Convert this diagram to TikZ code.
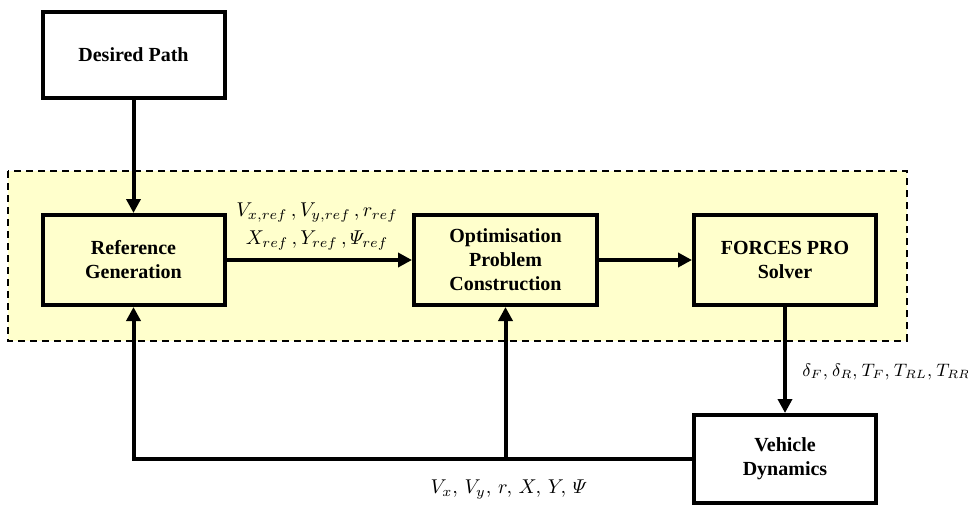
\documentclass[tikz,border=0pt]{standalone}
\usepackage{fontspec}
\setmainfont{Liberation Serif}
\usepackage{amsmath}
\usetikzlibrary{arrows.meta}
\definecolor{bgyellow}{RGB}{255,255,204}

\begin{document}
\begin{tikzpicture}[x=0.5pt,y=0.5pt,
  blk/.style={draw=black, line width=2pt, minimum width=91pt, minimum height=45pt,
    align=center, font=\bfseries, inner sep=0pt},
  sig/.style={black, line width=2pt, -{Triangle[length=7pt,width=7pt]}},
  lbl/.style={inner sep=0pt, align=center}]
\useasboundingbox (0,0) rectangle (968,-509);
\draw [black, line width=1pt, dash pattern=on 3.5pt off 2.5pt, fill=bgyellow] (7.5,-171) rectangle (906.5,-340.5);
\node [blk, fill=white, minimum height=43pt] (path) at (133.5,-55) {Desired Path};
\node [blk] (refgen) at (133.5,-260) {Reference\\Generation};
\node [blk, minimum width=91.5pt] (optim) at (505.5,-260) {Optimisation\\Problem\\Construction};
\node [blk] (solver) at (785,-260) {FORCES PRO\\Solver};
\node [blk, fill=white, minimum height=44pt] (vehicle) at (785,-459) {Vehicle\\Dynamics};
\coordinate (tap) at (optim.south |- vehicle.west);
\draw [sig] (path) -- (refgen);
\draw [sig] (refgen) -- (optim);
\draw [sig] (optim) -- (solver);
\draw [sig] (solver) -- (vehicle);
\draw [sig] (vehicle.west) -| (refgen.south);
\draw [sig] (tap) -- (optim.south);
\node [lbl] (reflbl) at (317,-227) {$V_{x,ref}\,,V_{y,ref}\,,r_{ref}$\\[2pt]$X_{ref}\,,Y_{ref}\,,\varPsi_{ref}$};
\node [lbl, anchor=west, font=\small] (ctrllbl) at (802,-372) {$\delta_F,\mkern1mu\delta_R,\mkern1mu T_F,\mkern1mu T_{RL},\mkern1mu T_{RR}$};
\node [lbl] (statelbl) at (509,-490) {$V_x,\,V_y,\,r,\,X,\,Y,\,\varPsi$};
\end{tikzpicture}
\end{document}
